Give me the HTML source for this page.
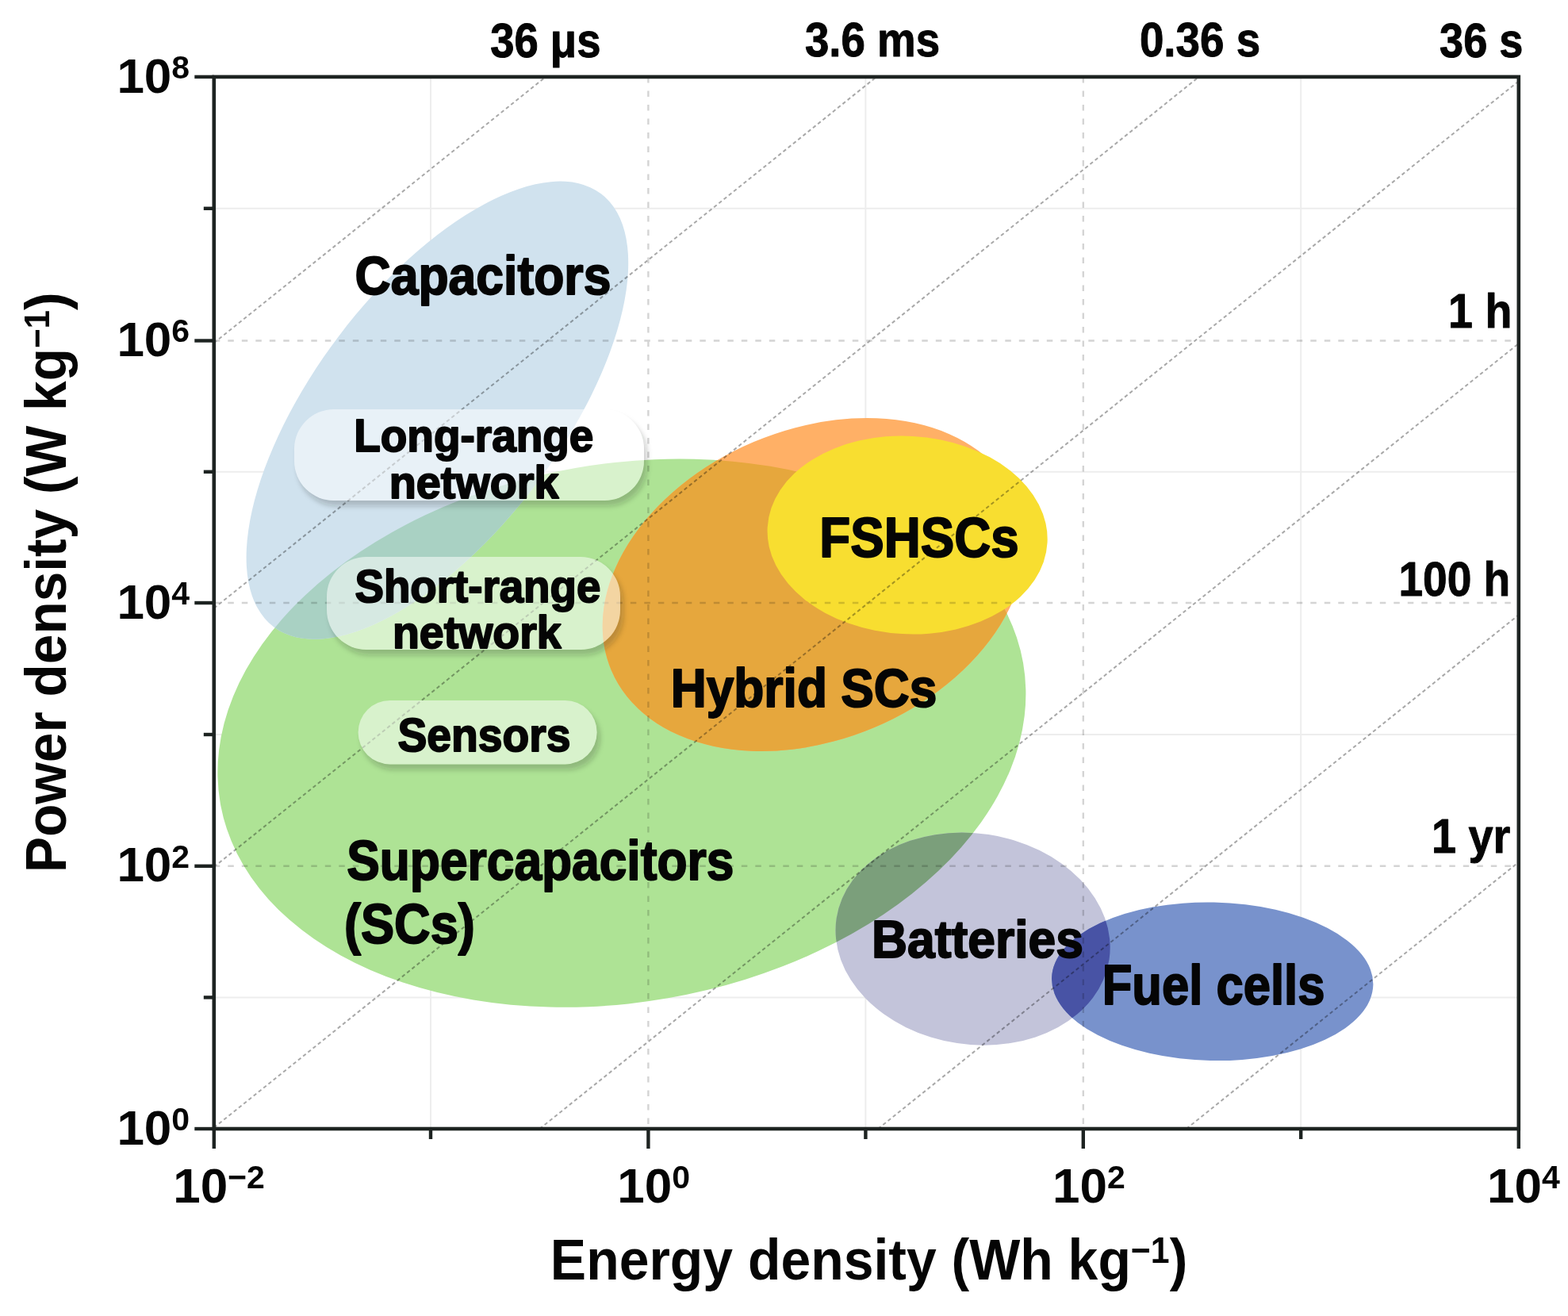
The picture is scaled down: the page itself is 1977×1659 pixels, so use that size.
<!DOCTYPE html>
<html><head><meta charset="utf-8"><title>Ragone plot</title>
<style>
html,body{margin:0;padding:0;background:#fff;overflow:hidden;}
svg{display:block;}
text{font-family:'Liberation Sans',Arial,Helvetica,sans-serif;font-weight:bold;fill:#050505;}
.mul{mix-blend-mode:multiply;}
.lb{stroke:#050505;stroke-linejoin:round;}
</style></head><body>
<svg xmlns="http://www.w3.org/2000/svg" width="1977" height="1659" viewBox="0 0 1977 1659">
<defs>
<clipPath id="plot"><rect x="271.8" y="98.9" width="1641.0" height="1322.1"/></clipPath>
<filter id="pshadow" x="-10%" y="-20%" width="120%" height="150%"><feGaussianBlur stdDeviation="3"/></filter>

<clipPath id="c_green"><ellipse cx="783.9" cy="924.2" rx="513.8" ry="339.2" transform="rotate(-9.9 783.9 924.2)" fill="#000"/></clipPath>
<clipPath id="c_blue"><ellipse cx="551.4" cy="517.2" rx="342.2" ry="155.5" transform="rotate(-52.9 551.4 517.2)" fill="#000"/></clipPath>
<clipPath id="c_orange"><ellipse cx="1026.5" cy="737.0" rx="277.6" ry="195.4" transform="rotate(-22.9 1026.5 737.0)" fill="#000"/></clipPath>
<clipPath id="c_yellow"><ellipse cx="1144.1" cy="674.5" rx="176.7" ry="124.8" transform="rotate(3.2 1144.1 674.5)" fill="#000"/></clipPath>
<clipPath id="c_batt"><ellipse cx="1226.6" cy="1183.6" rx="173.9" ry="133.0" transform="rotate(8.6 1226.6 1183.6)" fill="#000"/></clipPath>
<clipPath id="c_fuel"><ellipse cx="1528.7" cy="1237.3" rx="202.7" ry="99.7" transform="rotate(1.2 1528.7 1237.3)" fill="#000"/></clipPath>
</defs>
<rect width="1977" height="1659" fill="#fff"/>
<g clip-path="url(#plot)">
<line x1="543.0" y1="96.9" x2="543.0" y2="1423.0" stroke="#ededed" stroke-width="2"/>
<line x1="1091.4" y1="96.9" x2="1091.4" y2="1423.0" stroke="#ededed" stroke-width="2"/>
<line x1="1640.2" y1="96.9" x2="1640.2" y2="1423.0" stroke="#ededed" stroke-width="2"/>
<line x1="269.8" y1="262.8" x2="1914.8" y2="262.8" stroke="#ededed" stroke-width="2"/>
<line x1="269.8" y1="594.8" x2="1914.8" y2="594.8" stroke="#ededed" stroke-width="2"/>
<line x1="269.8" y1="926.0" x2="1914.8" y2="926.0" stroke="#ededed" stroke-width="2"/>
<line x1="269.8" y1="1257.4" x2="1914.8" y2="1257.4" stroke="#ededed" stroke-width="2"/>
</g>
<g id="shapes">
<ellipse cx="783.9" cy="924.2" rx="513.8" ry="339.2" transform="rotate(-9.9 783.9 924.2)" fill="#aee395"/>
<ellipse cx="551.4" cy="517.2" rx="342.2" ry="155.5" transform="rotate(-52.9 551.4 517.2)" fill="#d0e2ee"/>
<g clip-path="url(#c_green)"><ellipse cx="551.4" cy="517.2" rx="342.2" ry="155.5" transform="rotate(-52.9 551.4 517.2)" fill="#a9d1c3"/></g>
<ellipse cx="1026.5" cy="737.0" rx="277.6" ry="195.4" transform="rotate(-22.9 1026.5 737.0)" fill="#ffb066"/>
<g clip-path="url(#c_green)"><ellipse cx="1026.5" cy="737.0" rx="277.6" ry="195.4" transform="rotate(-22.9 1026.5 737.0)" fill="#e6a73d"/></g>
<ellipse cx="1144.1" cy="674.5" rx="176.7" ry="124.8" transform="rotate(3.2 1144.1 674.5)" fill="#f8de30"/>
<ellipse cx="1226.6" cy="1183.6" rx="173.9" ry="133.0" transform="rotate(8.6 1226.6 1183.6)" fill="#c3c4da"/>
<g clip-path="url(#c_green)"><ellipse cx="1226.6" cy="1183.6" rx="173.9" ry="133.0" transform="rotate(8.6 1226.6 1183.6)" fill="#7b9f7b"/></g>
<ellipse cx="1528.7" cy="1237.3" rx="202.7" ry="99.7" transform="rotate(1.2 1528.7 1237.3)" fill="#7892cc"/>
<g clip-path="url(#c_batt)"><ellipse cx="1528.7" cy="1237.3" rx="202.7" ry="99.7" transform="rotate(1.2 1528.7 1237.3)" fill="#4853a5"/></g>
</g>
<g class="mul" clip-path="url(#plot)">
<line x1="817.4" y1="96.9" x2="817.4" y2="1423.0" stroke="#d4d4d4" stroke-width="2.4" stroke-dasharray="7.5 10"/>
<line x1="1365.8" y1="96.9" x2="1365.8" y2="1423.0" stroke="#d4d4d4" stroke-width="2.4" stroke-dasharray="7.5 10"/>
<line x1="269.8" y1="429.5" x2="1914.8" y2="429.5" stroke="#d4d4d4" stroke-width="2.4" stroke-dasharray="7.5 10"/>
<line x1="269.8" y1="760.0" x2="1914.8" y2="760.0" stroke="#d4d4d4" stroke-width="2.4" stroke-dasharray="7.5 10"/>
<line x1="269.8" y1="1091.8" x2="1914.8" y2="1091.8" stroke="#d4d4d4" stroke-width="2.4" stroke-dasharray="7.5 10"/>
<line x1="269.8" y1="432.3" x2="688.0" y2="96.9" stroke="#a8a8a8" stroke-width="2" stroke-dasharray="4.5 3.5"/>
<line x1="269.8" y1="766.8" x2="1105.1" y2="96.9" stroke="#a8a8a8" stroke-width="2" stroke-dasharray="4.5 3.5"/>
<line x1="269.8" y1="1092.9" x2="1511.7" y2="96.9" stroke="#a8a8a8" stroke-width="2" stroke-dasharray="4.5 3.5"/>
<line x1="269.8" y1="1421.6" x2="1914.8" y2="102.3" stroke="#a8a8a8" stroke-width="2" stroke-dasharray="4.5 3.5"/>
<line x1="680.4" y1="1423.0" x2="1914.8" y2="433.0" stroke="#a8a8a8" stroke-width="2" stroke-dasharray="4.5 3.5"/>
<line x1="1107.1" y1="1423.0" x2="1914.8" y2="775.2" stroke="#a8a8a8" stroke-width="2" stroke-dasharray="4.5 3.5"/>
<line x1="1495.8" y1="1423.0" x2="1914.8" y2="1086.9" stroke="#a8a8a8" stroke-width="2" stroke-dasharray="4.5 3.5"/>
</g>
<mask id="m371"><rect x="0" y="0" width="1977" height="1659" fill="#fff"/><rect x="371" y="516" width="441" height="115" rx="50" fill="#000"/></mask>
<rect x="375" y="523" width="441" height="115" rx="50" fill="#1a2a1a" fill-opacity="0.22" filter="url(#pshadow)" mask="url(#m371)"/>
<rect x="371" y="516" width="441" height="115" rx="50" fill="#fff" fill-opacity="0.52"/>
<mask id="m412"><rect x="0" y="0" width="1977" height="1659" fill="#fff"/><rect x="412" y="702" width="370" height="117" rx="50" fill="#000"/></mask>
<rect x="416" y="709" width="370" height="117" rx="50" fill="#1a2a1a" fill-opacity="0.22" filter="url(#pshadow)" mask="url(#m412)"/>
<rect x="412" y="702" width="370" height="117" rx="50" fill="#fff" fill-opacity="0.52"/>
<mask id="m451"><rect x="0" y="0" width="1977" height="1659" fill="#fff"/><rect x="451.6" y="883" width="301.0" height="80.39999999999998" rx="40" fill="#000"/></mask>
<rect x="455.6" y="890" width="301.0" height="80.39999999999998" rx="40" fill="#1a2a1a" fill-opacity="0.22" filter="url(#pshadow)" mask="url(#m451)"/>
<rect x="451.6" y="883" width="301.0" height="80.39999999999998" rx="40" fill="#fff" fill-opacity="0.52"/>
<text class="lb" stroke-width="1" x="618.2" y="71.5" font-size="60.5" textLength="139.2" lengthAdjust="spacingAndGlyphs">36 μs</text>
<text class="lb" stroke-width="1" x="1014.9" y="71.3" font-size="60.5" textLength="170.2" lengthAdjust="spacingAndGlyphs">3.6 ms</text>
<text class="lb" stroke-width="1" x="1436.9" y="71.3" font-size="60.5" textLength="152.2" lengthAdjust="spacingAndGlyphs">0.36 s</text>
<text class="lb" stroke-width="1" x="1815.1" y="71.8" font-size="60.5" textLength="105.3" lengthAdjust="spacingAndGlyphs">36 s</text>
<text class="lb" stroke-width="1" x="1826.1" y="413.2" font-size="61.0" textLength="80.2" lengthAdjust="spacingAndGlyphs">1 h</text>
<text class="lb" stroke-width="1" x="1763.4" y="750.8" font-size="61.0" textLength="140.9" lengthAdjust="spacingAndGlyphs">100 h</text>
<text class="lb" stroke-width="1" x="1805.0" y="1074.8" font-size="61.0" textLength="99.3" lengthAdjust="spacingAndGlyphs">1 yr</text>
<text class="lb" stroke-width="2" x="447.6" y="371.2" font-size="68.8" textLength="322.8" lengthAdjust="spacingAndGlyphs">Capacitors</text>
<text class="lb" stroke-width="2" x="446.2" y="569.4" font-size="57.5" textLength="302.2" lengthAdjust="spacingAndGlyphs">Long-range</text>
<text class="lb" stroke-width="2" x="490.8" y="627.6" font-size="57.5" textLength="213.7" lengthAdjust="spacingAndGlyphs">network</text>
<text class="lb" stroke-width="2" x="447.5" y="758.6" font-size="57.5" textLength="309.8" lengthAdjust="spacingAndGlyphs">Short-range</text>
<text class="lb" stroke-width="2" x="494.9" y="816.7" font-size="57.5" textLength="212.8" lengthAdjust="spacingAndGlyphs">network</text>
<text class="lb" stroke-width="2" x="501.4" y="947.1" font-size="59.3" textLength="218.0" lengthAdjust="spacingAndGlyphs">Sensors</text>
<text class="lb" stroke-width="2" x="1033.3" y="702.3" font-size="70.5" textLength="251.4" lengthAdjust="spacingAndGlyphs">FSHSCs</text>
<text class="lb" stroke-width="2" x="845.7" y="891.1" font-size="68.5" textLength="335.7" lengthAdjust="spacingAndGlyphs">Hybrid SCs</text>
<text class="lb" stroke-width="2" x="437.3" y="1108.7" font-size="70.5" textLength="488.0" lengthAdjust="spacingAndGlyphs">Supercapacitors</text>
<text class="lb" stroke-width="2" x="434.0" y="1189.0" font-size="70.5" textLength="164.8" lengthAdjust="spacingAndGlyphs">(SCs)</text>
<text class="lb" stroke-width="2" x="1099.1" y="1206.6" font-size="66.5" textLength="266.7" lengthAdjust="spacingAndGlyphs">Batteries</text>
<text class="lb" stroke-width="2" x="1389.7" y="1266.2" font-size="71.0" textLength="280.7" lengthAdjust="spacingAndGlyphs">Fuel cells</text>
<text x="147.4" y="116.5" font-size="62">10<tspan dy="-17.8" font-size="41">8</tspan></text>
<text x="147.4" y="449.1" font-size="62">10<tspan dy="-17.8" font-size="41">6</tspan></text>
<text x="147.4" y="779.6" font-size="62">10<tspan dy="-17.8" font-size="41">4</tspan></text>
<text x="147.4" y="1111.4" font-size="62">10<tspan dy="-17.8" font-size="41">2</tspan></text>
<text x="147.4" y="1442.6" font-size="62">10<tspan dy="-17.8" font-size="41">0</tspan></text>
<text x="218.2" y="1516.2" font-size="62">10<tspan dy="-17.8" font-size="41">−2</tspan></text>
<text x="778.2" y="1516.2" font-size="62">10<tspan dy="-17.8" font-size="41">0</tspan></text>
<text x="1327.0" y="1516.2" font-size="62">10<tspan dy="-17.8" font-size="41">2</tspan></text>
<text x="1875.0" y="1516.2" font-size="62">10<tspan dy="-17.8" font-size="41">4</tspan></text>
<text transform="translate(698.5 1612.7) scale(0.9303 1)" x="-5.0" y="0" font-size="73">Energy density (Wh kg<tspan dy="-21" font-size="46">−1</tspan><tspan dy="21">)</tspan></text>
<text transform="translate(82.8 1095.5) rotate(-90) scale(0.939 1)" x="-4.9" y="0" font-size="72">Power density (W kg<tspan dy="-21" font-size="45">−1</tspan><tspan dy="21">)</tspan></text>
<rect x="269.8" y="96.9" width="1645.0" height="1326.1" fill="none" stroke="#1d2321" stroke-width="4.6"/>
<line x1="245.3" y1="1423.0" x2="269.8" y2="1423.0" stroke="#1d2321" stroke-width="4.4"/>
<line x1="256.8" y1="1257.4" x2="269.8" y2="1257.4" stroke="#1d2321" stroke-width="4.4"/>
<line x1="245.3" y1="1091.8" x2="269.8" y2="1091.8" stroke="#1d2321" stroke-width="4.4"/>
<line x1="256.8" y1="926.0" x2="269.8" y2="926.0" stroke="#1d2321" stroke-width="4.4"/>
<line x1="245.3" y1="760.0" x2="269.8" y2="760.0" stroke="#1d2321" stroke-width="4.4"/>
<line x1="256.8" y1="594.8" x2="269.8" y2="594.8" stroke="#1d2321" stroke-width="4.4"/>
<line x1="245.3" y1="429.5" x2="269.8" y2="429.5" stroke="#1d2321" stroke-width="4.4"/>
<line x1="256.8" y1="262.8" x2="269.8" y2="262.8" stroke="#1d2321" stroke-width="4.4"/>
<line x1="245.3" y1="96.9" x2="269.8" y2="96.9" stroke="#1d2321" stroke-width="4.4"/>
<line x1="269.8" y1="1423.0" x2="269.8" y2="1448.0" stroke="#1d2321" stroke-width="4.4"/>
<line x1="543.0" y1="1423.0" x2="543.0" y2="1436.0" stroke="#1d2321" stroke-width="4.4"/>
<line x1="817.4" y1="1423.0" x2="817.4" y2="1448.0" stroke="#1d2321" stroke-width="4.4"/>
<line x1="1091.4" y1="1423.0" x2="1091.4" y2="1436.0" stroke="#1d2321" stroke-width="4.4"/>
<line x1="1365.8" y1="1423.0" x2="1365.8" y2="1448.0" stroke="#1d2321" stroke-width="4.4"/>
<line x1="1640.2" y1="1423.0" x2="1640.2" y2="1436.0" stroke="#1d2321" stroke-width="4.4"/>
<line x1="1914.8" y1="1423.0" x2="1914.8" y2="1448.0" stroke="#1d2321" stroke-width="4.4"/>
</svg></body></html>
